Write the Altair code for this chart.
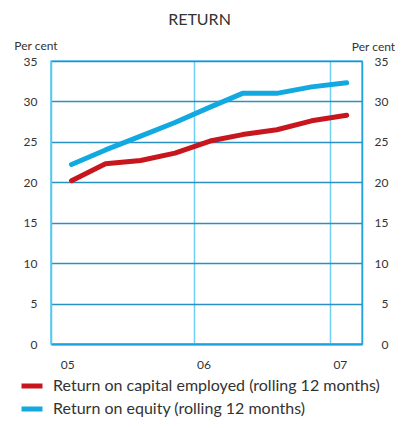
import altair as alt
import pandas as pd

periods = ["2005-02-08", "2005-05-10", "2005-08-12", "2005-11-12",
           "2006-02-14", "2006-05-12", "2006-08-12", "2006-11-13",
           "2007-02-15"]
roce = [20.2, 22.3, 22.7, 23.6, 25.1, 25.9, 26.5, 27.6, 28.3]
roe = [22.2, 24.0, 25.7, 27.4, 29.3, 31.0, 31.0, 31.8, 32.3]
series_names = ["Return on capital employed (rolling 12 months)",
                "Return on equity (rolling 12 months)"]
series_colors = ["#c8161e", "#12a9e0"]
y_ticks = [0, 5, 10, 15, 20, 25, 30, 35]

rows = []
for p, v in zip(periods, roce):
    rows.append({"date": p, "value": v, "series": series_names[0]})
for p, v in zip(periods, roe):
    rows.append({"date": p, "value": v, "series": series_names[1]})
df = pd.DataFrame(rows)

FONT = "Lato"
TXT = "#333333"

xscale = alt.Scale(type="utc",
                   domain=[alt.DateTime(year=2004, month=12, date=15, utc=True),
                           alt.DateTime(year=2007, month=3, date=28, utc=True)])
yscale = alt.Scale(domain=[0, 35])

xaxis = alt.Axis(
    values=[alt.DateTime(year=y, month=1, date=1, utc=True) for y in (2005, 2006, 2007)],
    labelExpr="utcFormat(datum.value, '%y')", title=None,
    grid=True, gridColor="#70cff2", gridWidth=1.5,
    gridOpacity={"condition": {"test": "utcyear(datum.value) == 2005", "value": 0}, "value": 1},
    ticks=False, domain=True, domainColor="#1aa3dd", domainWidth=2,
    labelAlign="left", labelOffset=3, labelPadding=15,
    labelFont=FONT, labelFontSize=12, labelColor=TXT,
)

yaxis_left = alt.Axis(
    values=y_ticks, title="Per cent", titleAngle=0, titleAlign="center",
    titleBaseline="alphabetic", titleX=-15.5, titleY=-11.5,
    titleFont=FONT, titleFontSize=12, titleFontWeight="normal", titleColor=TXT,
    grid=True, gridColor="#2a8fc2", gridWidth=1.5,
    ticks=False, domain=True, domainColor="#55c6f2", domainWidth=1.5,
    labelAlign="right", labelPadding=14, labelBaseline="middle",
    labelFont=FONT, labelFontSize=12, labelColor=TXT,
)

yaxis_right = alt.Axis(
    orient="right", values=y_ticks, title="Per cent", titleAngle=0,
    titleAlign="center", titleBaseline="alphabetic", titleX=11, titleY=-11,
    titleFont=FONT, titleFontSize=12, titleFontWeight="normal", titleColor=TXT,
    grid=False, ticks=False, domain=True, domainColor="#22a2da", domainWidth=1.5,
    labelAlign="right", labelPadding=26, labelBaseline="middle",
    labelFont=FONT, labelFontSize=12, labelColor=TXT,
)

lines = alt.Chart(df).mark_line(strokeWidth=5, strokeCap="round", strokeJoin="round").encode(
    x=alt.X("date:T", scale=xscale, axis=xaxis),
    y=alt.Y("value:Q", scale=yscale, axis=yaxis_left),
    color=alt.Color("series:N",
                    scale=alt.Scale(domain=series_names, range=series_colors),
                    sort=series_names,
                    legend=alt.Legend(title=None, orient="none", legendX=-32, legendY=312,
                                      symbolType="stroke", symbolSize=441,
                                      symbolStrokeWidth=5, rowPadding=0,
                                      labelOffset=8, labelFont=FONT, labelFontSize=16,
                                      labelColor=TXT, labelLimit=400)),
)

right = alt.Chart(df).mark_line(opacity=0).encode(
    x=alt.X("date:T", scale=xscale),
    y=alt.Y("value:Q", scale=yscale, axis=yaxis_right),
    detail="series:N",
)

chart = alt.layer(lines, right).resolve_scale(y="independent").properties(
    width=311, height=283,
    title=alt.TitleParams("RETURN", font=FONT, fontSize=16, fontWeight="normal",
                          color=TXT, anchor="middle", frame="group", dx=-7, offset=12),
    autosize=alt.AutoSizeParams(type="none"),
    padding={"left": 43, "top": 53, "right": 33, "bottom": 76},
).configure_view(stroke="#55c6f2", strokeWidth=1.5)

chart.save("out.html", embed_options={"renderer": "svg", "actions": False})
